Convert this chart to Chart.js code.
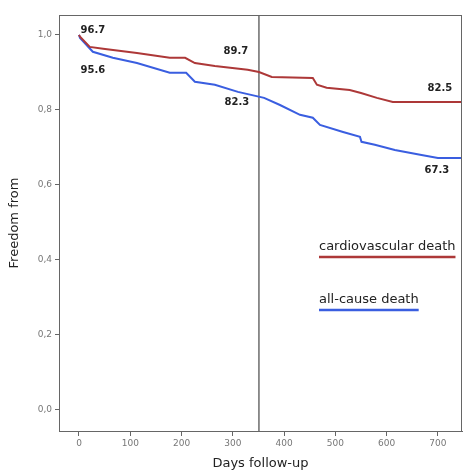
<!DOCTYPE html>
<html>
<head>
<meta charset="utf-8">
<script src="https://cdn.jsdelivr.net/npm/chart.js@4"></script>
<style>
  body { margin: 0; background: #fff; }
  canvas { display: block; }
</style>
</head>
<body>
<canvas id="myChart" width="467" height="471"></canvas>
<script>
// survival curves (days, freedom from event)
var cvDays   = [0, 2, 21, 47, 113, 177, 207, 226, 265, 329, 351, 376, 456, 464, 483, 528, 550, 581, 612, 760];
var cvValues = [1.0, 0.995, 0.968, 0.963, 0.952, 0.939, 0.939, 0.925, 0.917, 0.907, 0.901, 0.888, 0.885, 0.867, 0.859, 0.853, 0.845, 0.832, 0.821, 0.821];
var allDays   = [0, 2, 27, 66, 113, 177, 209, 226, 265, 310, 361, 392, 431, 456, 470, 515, 548, 551, 577, 616, 668, 700, 760];
var allValues = [1.0, 0.992, 0.955, 0.939, 0.925, 0.899, 0.899, 0.875, 0.867, 0.848, 0.832, 0.813, 0.787, 0.779, 0.760, 0.741, 0.728, 0.715, 0.707, 0.693, 0.680, 0.672, 0.672];
var markerDay = 351;

var xTicks = [0, 100, 200, 300, 400, 500, 600, 700];
var yTicks = [0, 0.2, 0.4, 0.6, 0.8, 1.0];

// value labels: text, day, level
var labelTexts = ["96.7", "95.6", "89.7", "82.3", "82.5", "67.3"];
var labelDays  = [27, 27, 306, 308, 704, 698];
var labelLevels = [1.011, 0.904, 0.955, 0.819, 0.856, 0.640];

var legendNames = ["cardiovascular death", "all-cause death"];

var RED = "#ad3838";
var BLUE = "#3a5ee0";
var FONT = "'DejaVu Sans', Verdana, sans-serif";

function pts(xs, ys) {
  return xs.map(function (x, i) { return { x: x, y: ys[i] }; });
}

var extras = {
  id: "extras",
  afterDatasetsDraw: function (chart) {
    var c = chart.ctx, a = chart.chartArea;
    var sx = chart.scales.x, sy = chart.scales.y;
    c.save();
    // frame
    c.strokeStyle = "#666";
    c.lineWidth = 1;
    c.strokeRect(a.left + 0.5, a.top + 0.5, a.right - a.left - 1, a.bottom - a.top);
    // value labels
    c.fillStyle = "#222";
    c.font = "bold 10px " + FONT;
    c.textAlign = "center";
    c.textBaseline = "middle";
    labelTexts.forEach(function (t, i) {
      c.fillText(t, sx.getPixelForValue(labelDays[i]), sy.getPixelForValue(labelLevels[i]));
    });
    // legend with underlines
    var colors = [RED, BLUE];
    var lx = a.left + 260, ly = [247, 300];
    c.font = "13px " + FONT;
    c.textAlign = "left";
    legendNames.forEach(function (n, i) {
      c.fillStyle = "#222";
      c.fillText(n, lx, ly[i]);
      var w = c.measureText(n).width;
      c.strokeStyle = colors[i];
      c.lineWidth = 2.5;
      c.beginPath();
      c.moveTo(lx, ly[i] + 10);
      c.lineTo(lx + w, ly[i] + 10);
      c.stroke();
    });
    c.restore();
  }
};

new Chart(document.getElementById("myChart"), {
  type: "line",
  data: {
    datasets: [
      {
        label: legendNames[0],
        data: pts(cvDays, cvValues),
        borderColor: RED,
        borderWidth: 2,
        pointRadius: 0,
        tension: 0,
        fill: false
      },
      {
        label: legendNames[1],
        data: pts(allDays, allValues),
        borderColor: BLUE,
        borderWidth: 2,
        pointRadius: 0,
        tension: 0,
        fill: false
      },
      {
        label: "marker",
        data: [{ x: markerDay, y: -0.1 }, { x: markerDay, y: 1.1 }],
        borderColor: "#222",
        borderWidth: 1,
        pointRadius: 0,
        fill: false
      }
    ]
  },
  options: {
    responsive: false,
    animation: false,
    layout: { padding: { top: 15, right: 5, left: 0, bottom: 0 } },
    plugins: {
      legend: { display: false },
      tooltip: { enabled: false }
    },
    scales: {
      x: {
        type: "linear",
        min: -39,
        max: 747,
        afterBuildTicks: function (s) { s.ticks = xTicks.map(function (v) { return { value: v }; }); },
        afterFit: function (s) { s.height = 40; },
        grid: { drawOnChartArea: false, tickLength: 5, color: "#666" },
        border: { color: "#666" },
        ticks: {
          color: "#777",
          padding: 2,
          font: { size: 9, family: FONT },
          maxRotation: 0
        },
        title: {
          display: true,
          text: "Days follow-up",
          color: "#222",
          padding: { top: 0, bottom: 0 },
          font: { size: 13, family: FONT }
        }
      },
      y: {
        min: -0.056,
        max: 1.053,
        afterBuildTicks: function (s) { s.ticks = yTicks.map(function (v) { return { value: v }; }); },
        afterFit: function (s) { s.width = 59; },
        grid: { drawOnChartArea: false, tickLength: 4, color: "#666" },
        border: { color: "#666" },
        ticks: {
          color: "#777",
          padding: 3,
          font: { size: 9, family: FONT },
          callback: function (v) { return v.toFixed(1).replace(".", ","); }
        },
        title: {
          display: true,
          text: "Freedom from",
          color: "#222",
          padding: { top: 7, bottom: 0 },
          font: { size: 13, family: FONT }
        }
      }
    }
  },
  plugins: [extras]
});
</script>
</body>
</html>
